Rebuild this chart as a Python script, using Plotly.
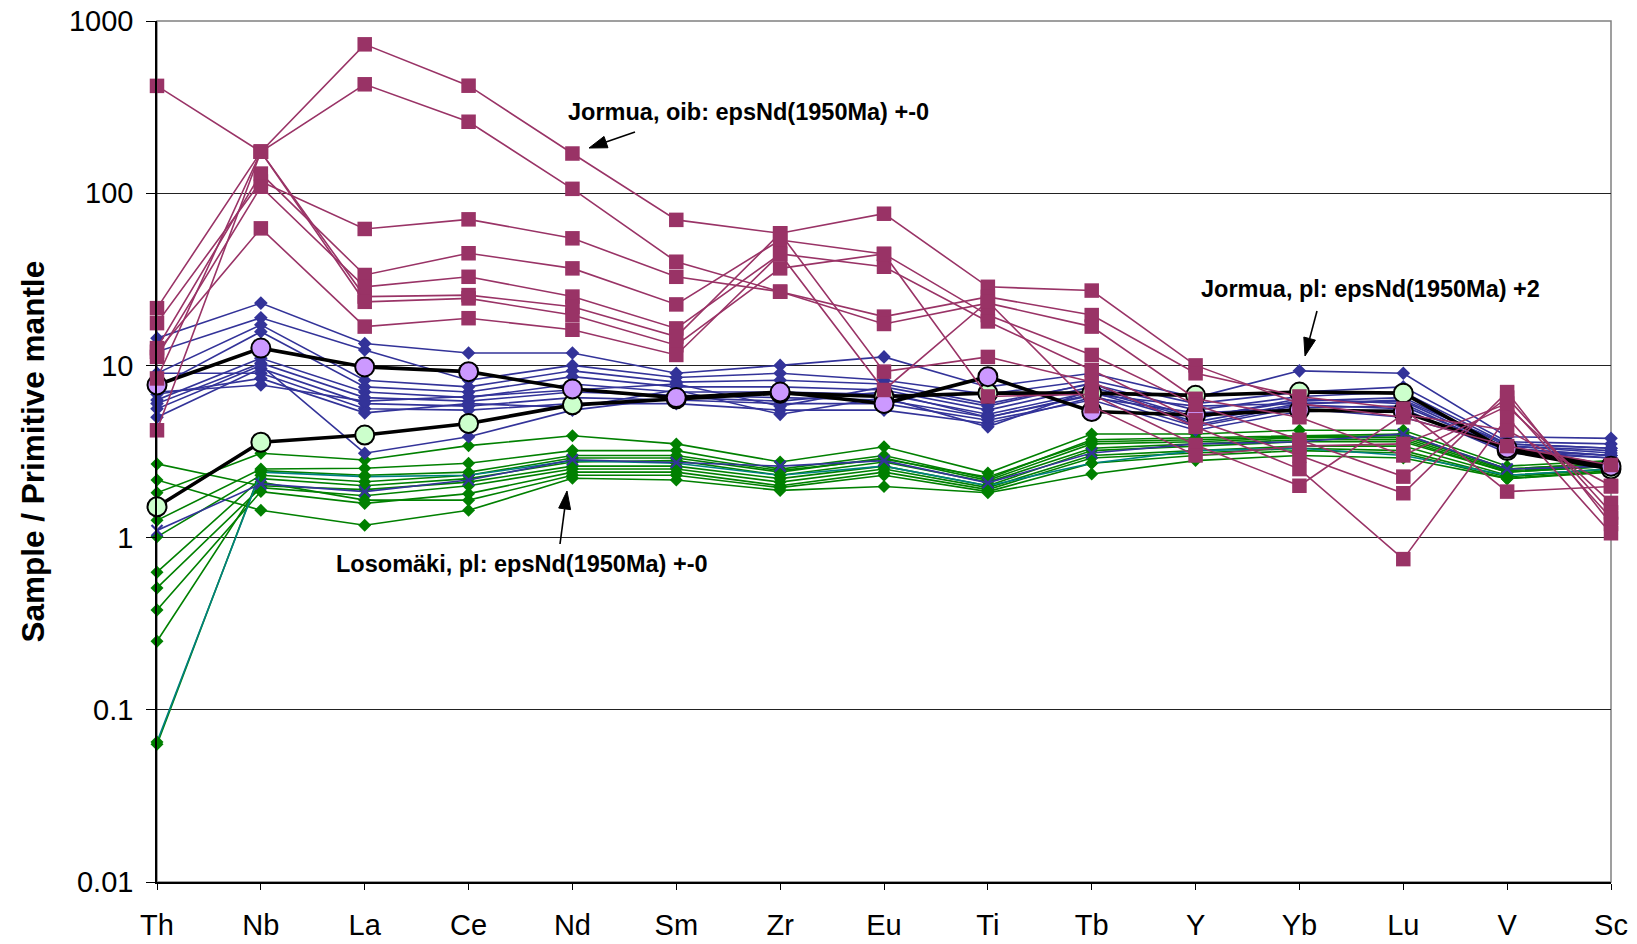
import plotly.graph_objects as go

# Trace elements, in spider-diagram order
elements = ["Th", "Nb", "La", "Ce", "Nd", "Sm", "Zr", "Eu", "Ti", "Tb", "Y", "Yb", "Lu", "V", "Sc"]

# Jormua, OIB-type samples (normalised to primitive mantle)
jormua_oib = [
    [420, 174, 732, 421, 170, 70, 58.5, 76, 28.6, 27.2, 10.0, 6.0, 5.0, 3.4, 2.64],
    [21.5, 174, 429, 260, 106, 40, 26.8, 19.2, 25, 19.6, 9.0, 6.6, 5.6, 1.85, 1.98],
    [17.6, 117, 62, 70.5, 54.7, 32.7, 26.8, 17.4, 23, 16.8, 6.4, 5.0, 3.0, 5.8, 1.59],
    [12.6, 130, 33.5, 44.8, 36.6, 22.6, 53.5, 44.4, 19.6, 11.5, 5.9, 3.7, 2.26, 6.5, 1.4],
    [11.2, 109, 28.6, 32.7, 25.1, 16.4, 44.4, 37.4, 18, 9.4, 4.8, 3.0, 1.81, 7.0, 1.2],
    [8.4, 174, 25.1, 25.6, 21.9, 14.7, 58.5, 9.2, 11.2, 8.0, 4.4, 2.5, 0.75, 5.0, 1.06],
    [4.2, 174, 23.4, 24.5, 19.6, 13.1, 36.6, 44.4, 6.6, 6.8, 3.45, 2.0, 5.2, 4.2, 2.0],
    [12.0, 62.5, 16.8, 18.8, 16.1, 11.5, 44.4, 7.2, 23.5, 5.8, 3.0, 3.4, 3.5, 6.0, 1.3],
]

# Jormua, plume-type samples
jormua_pl = [
    [14.4, 23, 13.4, 11.8, 11.8, 9.0, 10, 11.2, 7.5, 9.0, 6.5, 9.3, 9.0, 3.85, 3.77],
    [12, 18.9, 12.3, 8.2, 10, 8.5, 9, 8.2, 6.8, 8.2, 6.0, 7.0, 7.5, 3.6, 3.5],
    [9.0, 17.2, 8.2, 7.5, 9.3, 8.0, 8.2, 7.8, 6.0, 7.8, 5.5, 6.6, 7.0, 3.5, 3.3],
    [7.5, 15.7, 7.5, 7.0, 8.6, 7.5, 7.5, 7.2, 5.5, 7.5, 5.0, 6.2, 6.5, 3.4, 3.2],
    [6.3, 11, 7.0, 6.5, 7.8, 7.0, 7.0, 6.8, 5.2, 7.0, 4.7, 6.0, 6.2, 3.3, 3.0],
    [6.0, 10.3, 6.5, 6.2, 7.0, 6.7, 6.5, 6.3, 5.0, 6.7, 4.4, 5.7, 5.8, 3.3, 3.0],
    [5.0, 9.6, 6.0, 5.8, 6.5, 6.3, 6.0, 6.0, 4.8, 6.3, 4.2, 5.4, 5.5, 3.2, 2.9],
    [9.0, 9.0, 5.6, 5.5, 6.0, 6.0, 5.5, 5.5, 4.6, 6.5, 5.3, 5.6, 5.0, 3.4, 3.1],
    [6.8, 8.4, 5.3, 6.0, 5.7, 7.2, 5.2, 6.5, 4.4, 7.2, 4.9, 6.4, 6.0, 3.2, 3.0],
    [5.6, 10.0, 3.09, 3.85, 5.5, 6.5, 6.2, 7.0, 5.0, 6.8, 5.8, 6.0, 6.3, 3.5, 3.3],
    [7.0, 7.7, 6.2, 6.6, 7.2, 7.8, 5.8, 7.5, 5.8, 7.9, 4.5, 5.9, 5.6, 3.1, 2.9],
]

# Losomäki, plume-type samples
losomaki_pl = [
    [2.68, 2.0, 1.9, 2.1, 2.6, 2.6, 2.2, 2.6, 2.0, 3.2, 3.4, 3.6, 3.6, 2.4, 2.6],
    [2.16, 1.44, 1.18, 1.44, 2.21, 2.16, 1.88, 1.98, 1.82, 2.34, 2.8, 3.0, 2.9, 2.2, 2.4],
    [1.82, 3.09, 2.82, 3.42, 3.9, 3.5, 2.75, 3.37, 2.37, 4.0, 4.0, 4.2, 4.2, 2.6, 2.8],
    [1.26, 2.5, 2.53, 2.7, 3.2, 3.2, 2.5, 3.0, 2.2, 3.7, 3.8, 3.9, 4.0, 2.5, 2.7],
    [1.01, 2.3, 2.11, 2.3, 2.9, 2.9, 2.4, 2.9, 2.15, 3.5, 3.6, 3.8, 3.8, 2.45, 2.6],
    [0.63, 2.2, 2.0, 2.2, 2.75, 2.8, 2.3, 2.75, 2.1, 3.3, 3.5, 3.7, 3.7, 2.4, 2.6],
    [0.51, 1.95, 1.75, 2.0, 2.5, 2.5, 2.1, 2.5, 1.95, 3.0, 3.2, 3.4, 3.4, 2.3, 2.5],
    [0.38, 1.85, 1.58, 1.8, 2.4, 2.4, 2.0, 2.4, 1.9, 2.9, 3.1, 3.3, 3.2, 2.25, 2.5],
    [0.25, 2.1, 1.65, 1.65, 2.3, 2.3, 1.95, 2.3, 1.85, 2.7, 3.0, 3.2, 3.1, 2.2, 2.45],
    [0.063, 2.45, 2.3, 2.4, 3.0, 3.0, 2.45, 2.85, 2.25, 3.6, 3.7, 3.85, 3.9, 2.5, 2.7],
]
losomaki_teal = [0.065, 2.4, 2.26, 2.3, 2.8, 2.7, 2.3, 2.6, 2.0, 2.7, 3.2, 3.3, 3.0, 2.3, 2.5]
losomaki_cross = [1.1, 2.05, 1.85, 2.16, 2.83, 2.73, 2.6, 2.8, 2.08, 3.1, 3.5, 3.6, 4.0, 2.5, 2.6]

# Reference averages
mean_green = [1.51, 3.58, 3.94, 4.6, 5.9, 6.4, 6.9, 6.6, 6.9, 6.9, 6.7, 7.0, 6.9, 3.2, 2.5]
mean_lilac = [7.7, 12.6, 9.8, 9.2, 7.3, 6.5, 7.0, 6.0, 8.6, 5.4, 5.15, 5.5, 5.4, 3.3, 2.6]

PURPLE = "#993366"
BLUE = "#333399"
GREEN = "#008000"
TEAL = "#008080"
FONT = "Liberation Sans, Arial, sans-serif"

xs = list(range(len(elements)))
fig = go.Figure()


def add_series(vals, color, symbol, size, width=1.6, mline=None, mcolor=None):
    fig.add_trace(go.Scatter(
        x=xs, y=vals, mode="lines+markers", cliponaxis=False, showlegend=False,
        line=dict(color=color, width=width),
        marker=dict(symbol=symbol, size=size, color=mcolor or color,
                    line=mline or dict(width=0)),
    ))


for row in losomaki_pl:
    add_series(row, GREEN, "diamond", 10)
add_series(losomaki_teal, TEAL, "diamond", 10, mcolor=GREEN)
add_series(losomaki_cross, BLUE, "x-thin", 11, mline=dict(color=BLUE, width=2.2))
for row in jormua_pl:
    add_series(row, BLUE, "diamond", 10.5)
add_series(mean_green, "black", "circle", 19, width=3.6,
           mline=dict(color="black", width=2), mcolor="#CCFFCC")
add_series(mean_lilac, "black", "circle", 19, width=3.6,
           mline=dict(color="black", width=2), mcolor="#CC99FF")
for row in jormua_oib:
    add_series(row, PURPLE, "square", 14.5)

# pixel -> paper helpers for the plot frame
L, R, T, B = 157, 1611, 21, 882


def px(x):
    return (x - L) / (R - L)


def py(y):
    return (B - y) / (B - T)


shapes = [dict(type="rect", xref="paper", yref="paper", x0=0, x1=1, y0=0, y1=1,
               line=dict(color="#808080", width=1.5), layer="below")]


def arrow(tail, tip, head_len=18, half_w=6):
    (ax_, ay_), (tx, ty) = tail, tip
    dx, dy = tx - ax_, ty - ay_
    n = (dx * dx + dy * dy) ** 0.5
    ux, uy = dx / n, dy / n
    bx, by = tx - ux * head_len, ty - uy * head_len
    nx, ny = -uy, ux
    shapes.append(dict(type="line", xref="paper", yref="paper",
                       x0=px(ax_), y0=py(ay_), x1=px(bx), y1=py(by),
                       line=dict(color="black", width=1.6)))
    path = "M {} {} L {} {} L {} {} Z".format(
        px(tx), py(ty), px(bx + nx * half_w), py(by + ny * half_w),
        px(bx - nx * half_w), py(by - ny * half_w))
    shapes.append(dict(type="path", xref="paper", yref="paper", path=path,
                       fillcolor="black", line=dict(color="black", width=1)))


arrow((635, 132), (589, 148))
arrow((1317, 311), (1305, 356))
arrow((560, 544), (567, 491))

labels = [
    ("Jormua, oib: epsNd(1950Ma) +-0", 566, 112),
    ("Jormua, pl: epsNd(1950Ma) +2", 1199, 289),
    ("Losomäki, pl: epsNd(1950Ma) +-0", 334, 564),
]
annotations = [dict(text="<b>%s</b>" % t, xref="paper", yref="paper", x=px(x), y=py(y),
                    xanchor="left", yanchor="middle", showarrow=False,
                    font=dict(family=FONT, size=23.5, color="black"))
               for t, x, y in labels]
annotations.append(dict(text="<b>Sample / Primitive mantle</b>", xref="paper", yref="paper",
                        x=px(32), y=0.5, textangle=-90, showarrow=False,
                        xanchor="center", yanchor="middle",
                        font=dict(family=FONT, size=31.5, color="black")))

fig.update_layout(
    width=1637, height=944, autosize=False,
    margin=dict(l=L, r=1637 - R, t=T, b=944 - B, pad=0),
    paper_bgcolor="white", plot_bgcolor="white",
    shapes=shapes, annotations=annotations,
    xaxis=dict(range=[0, len(elements) - 1], tickvals=xs, ticktext=elements, automargin=False,
               showgrid=False, zeroline=False, showline=True, linecolor="black", linewidth=1.5,
               ticks="outside", ticklen=6, tickcolor="black", ticklabelstandoff=10,
               tickfont=dict(family=FONT, size=29, color="black")),
    yaxis=dict(type="log", range=[-2, 3], automargin=False,
               tickvals=[0.01, 0.1, 1, 10, 100, 1000],
               ticktext=["0.01", "0.1", "1", "10", "100", "1000"],
               showgrid=True, gridcolor="#222222", gridwidth=1, zeroline=False,
               showline=True, linecolor="black", linewidth=1.5,
               ticks="outside", ticklen=9, tickcolor="black", ticklabelstandoff=7,
               tickfont=dict(family=FONT, size=29, color="black")),
)

fig.write_html("out.html")
